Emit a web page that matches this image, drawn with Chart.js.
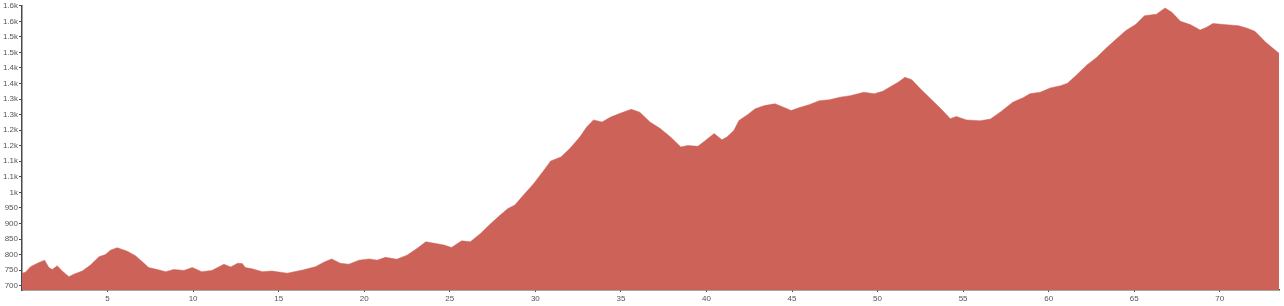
<!DOCTYPE html>
<html>
<head>
<meta charset="utf-8">
<script src="https://cdn.jsdelivr.net/npm/chart.js@4"></script>
<style>
  html, body { margin: 0; padding: 0; background: #ffffff; }
  #wrap { width: 1284px; height: 306px; }
</style>
</head>
<body>
<div id="wrap"><canvas id="elevationChart"></canvas></div>
<script>
// distance along the route (km) and elevation (m)
const distanceKm = [
  0.0, 0.2, 0.5, 0.9, 1.32, 1.57, 1.77, 2.06, 2.35, 2.74, 3.03, 3.52, 4.0, 4.5, 4.88, 5.17,
  5.56, 6.15, 6.63, 7.03, 7.4, 7.9, 8.4, 8.87, 9.46, 9.95, 10.5, 11.1, 11.8, 12.2, 12.6,
  12.87, 13.05, 13.45, 14.04, 14.6, 15.5, 16.4, 17.15, 17.7, 18.1, 18.6, 19.1, 19.7, 20.3,
  20.75, 21.24, 21.9, 22.5, 23.1, 23.6, 24.1, 24.65, 25.1, 25.7, 26.2, 26.8,
  27.4, 27.95, 28.4, 28.8, 29.3, 29.9, 30.5, 30.9, 31.5, 32.0, 32.6, 33.0, 33.4, 33.9, 34.4,
  35.0, 35.6, 36.1, 36.7, 37.3, 37.9, 38.5, 38.9, 39.5, 39.9, 40.45, 40.9, 41.2, 41.6, 41.9,
  42.4, 42.85, 43.4, 44.0, 44.5, 44.95, 45.4, 46.0, 46.6, 47.2, 47.8, 48.4, 49.2, 49.8, 50.3,
  50.7, 51.2, 51.6, 52.0, 52.5, 53.1, 53.7, 54.25, 54.6, 55.2, 56.0, 56.6, 57.2, 57.9, 58.5,
  58.9, 59.5, 60.1, 60.7, 61.1, 61.6, 62.2, 62.8, 63.4, 63.95, 64.5, 65.1, 65.6, 66.3, 66.8,
  67.2, 67.7, 68.3, 68.85, 69.2, 69.6, 70.4, 71.1, 71.6, 72.05, 72.7, 73.46
];
const elevationM = [
  740, 743, 761, 772, 782, 758, 752, 764, 747, 729, 737, 747, 766, 793, 800, 814,
  822, 811, 796, 777, 758, 752, 745, 752, 749, 758, 745, 749, 769, 760, 772,
  771, 758, 754, 745, 747, 740, 750, 761, 777, 786, 772, 769, 782, 786,
  782, 791, 785, 798, 820, 841, 836, 831, 823, 844, 841, 868,
  900, 927, 948, 959, 991, 1028, 1071, 1101, 1114, 1140, 1178, 1210, 1233, 1226, 1242,
  1255, 1267, 1258, 1226, 1205, 1178, 1146, 1151, 1148, 1165, 1189, 1169, 1178, 1199, 1231,
  1250, 1269, 1279, 1285, 1274, 1263, 1272, 1282, 1295, 1298, 1306, 1311, 1322, 1317, 1325,
  1338, 1354, 1370, 1362, 1333, 1301, 1269, 1237, 1244, 1233, 1230, 1236, 1259, 1290, 1304,
  1317, 1322, 1336, 1343, 1351, 1376, 1408, 1434, 1466, 1493, 1520, 1541, 1568, 1573, 1593,
  1579, 1550, 1539, 1522, 1530, 1543, 1539, 1536, 1528, 1518, 1482, 1447
];

// axis ticks
const xTicks = [5, 10, 15, 20, 25, 30, 35, 40, 45, 50, 55, 60, 65, 70];
const yTicks = [700, 750, 800, 850, 900, 950, 1000, 1050, 1100, 1150, 1200,
  1250, 1300, 1350, 1400, 1450, 1500, 1550, 1600];

// 1450 -> "1.5k", 950 -> "950"
function formatElevation(v) {
  if (v < 1000) return String(v);
  return (Math.round(v / 100) / 10) + 'k';
}

const points = distanceKm.map((d, i) => ({ x: d, y: elevationM[i] }));

const axisColor = '#4a4a4a';
const tickFont = { size: 8, family: 'Liberation Sans, Arial, sans-serif' };

const ctx = document.getElementById('elevationChart').getContext('2d');

new Chart(ctx, {
  type: 'line',
  data: {
    datasets: [{
      data: points,
      fill: 'start',
      backgroundColor: '#cc6258',
      borderColor: '#cc6258',
      borderWidth: 0.5,
      pointRadius: 0,
      tension: 0
    }]
  },
  options: {
    responsive: true,
    maintainAspectRatio: false,
    animation: false,
    layout: { padding: { top: 5, right: 5, bottom: 0, left: 0 } },
    plugins: {
      legend: { display: false },
      tooltip: { enabled: false }
    },
    scales: {
      x: {
        type: 'linear',
        min: 0,
        max: 73.46,
        afterBuildTicks: (scale) => { scale.ticks = xTicks.map(v => ({ value: v })); },
        afterFit: (scale) => { scale.height = 16; },
        border: { display: true, color: axisColor, width: 1.5 },
        grid: { drawOnChartArea: false, drawTicks: true, tickLength: 2, color: axisColor },
        ticks: {
          color: '#555555',
          font: tickFont,
          padding: 2,
          maxRotation: 0,
          autoSkip: false
        }
      },
      y: {
        type: 'linear',
        min: 686,
        max: 1600,
        afterBuildTicks: (scale) => { scale.ticks = yTicks.map(v => ({ value: v })); },
        afterFit: (scale) => { scale.width = 22; },
        border: { display: true, color: axisColor, width: 1.5 },
        grid: { drawOnChartArea: false, drawTicks: true, tickLength: 3, color: axisColor },
        ticks: {
          color: '#555555',
          font: tickFont,
          padding: 1,
          autoSkip: false,
          callback: (v) => formatElevation(v)
        }
      }
    }
  }
});
</script>
</body>
</html>
